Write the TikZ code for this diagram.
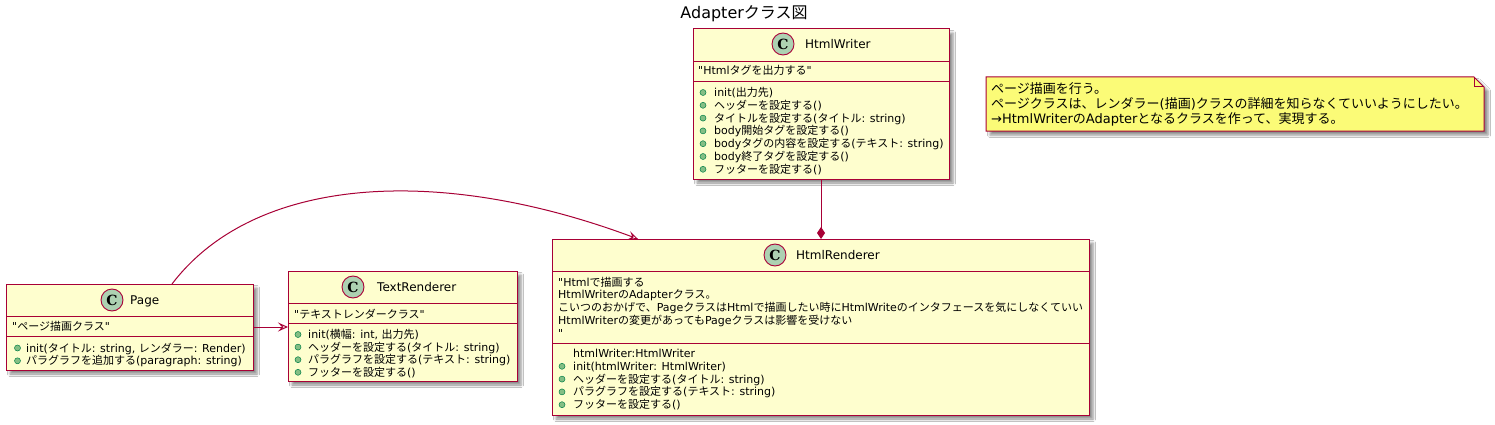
\documentclass[tikz,border=0pt]{standalone}
\usepackage{fontspec}
\setmainfont{DejaVu Sans}[Ligatures=TeXOff]
\newfontfamily\jpfont{Noto Sans CJK JP}
\newfontfamily\lafont{DejaVu Sans}[Ligatures=TeXOff]
\newfontfamily\cfont{DejaVu Serif}
\usetikzlibrary{arrows.meta,shadows.blur}
\XeTeXinterchartokenstate=1
\newXeTeXintercharclass\jpclass
\newcount\jpcnt
\def\jpsetrange#1#2{\jpcnt=#1\relax\loop\XeTeXcharclass\jpcnt=\jpclass\relax\ifnum\jpcnt<#2\advance\jpcnt by 1\repeat}
\jpsetrange{"3000}{"30FF}
\jpsetrange{"4E00}{"9FFF}
\jpsetrange{"FF00}{"FFEF}
\XeTeXinterchartoks 0 \jpclass = {\jpfont}
\XeTeXinterchartoks 4095 \jpclass = {\jpfont}
\XeTeXinterchartoks \jpclass 0 = {\lafont}
\XeTeXinterchartoks \jpclass 4095 = {\lafont}
\definecolor{bd}{HTML}{A80036}
\definecolor{clsbg}{HTML}{FEFECE}
\definecolor{cbg}{HTML}{ADD1B2}
\definecolor{bulfill}{HTML}{84BE84}
\definecolor{bulbd}{HTML}{038048}
\definecolor{notebg}{HTML}{FBFB77}
\tikzset{
  shad/.style={blur shadow={shadow xshift=4pt,shadow yshift=-4pt,shadow blur radius=2.5pt,shadow opacity=45}},
  cls/.style={draw=bd, fill=clsbg, line width=1pt, rectangle, anchor=north west, inner sep=0pt, outer sep=0pt, shad},
  sepline/.style={draw=bd, line width=0.9pt},
  cc/.style={circle, draw=bd, fill=cbg, line width=0.9pt, minimum size=22pt, inner sep=0pt, font=\cfont\bfseries\fontsize{14}{14}\selectfont},
  bul/.style={circle, draw=bulbd, fill=bulfill, minimum size=6pt, inner sep=0pt, line width=0.5pt},
  tx/.style={anchor=base west, inner sep=0pt, font=\fontsize{11}{13}\selectfont},
  nm/.style={anchor=base west, inner sep=0pt, font=\fontsize{12}{14}\selectfont},
  ntx/.style={anchor=base west, inner sep=0pt, font=\fontsize{13}{15}\selectfont},
  conn/.style={draw=bd, line width=1pt},
  asc/.style={conn, -{Stealth[open,length=10pt,width=9pt,inset=4pt]}},
}
\begin{document}
\begin{tikzpicture}[x=1pt,y=-1pt]
\fill[white] (0,0) rectangle (1495,425);
\useasboundingbox (0,0) rectangle (1495,425);

% title
\node[anchor=base, inner sep=0pt, font=\fontsize{16}{18}\selectfont] (title) at (744,18.5) {Adapterクラス図};

% ---------- HtmlWriter ----------
\node[cls, minimum width=256pt, minimum height=150pt] (hw) at (693,29) {};
\draw[sepline] (693,61) -- (949,61);
\draw[sepline] (693,81) -- (949,81);
\node[cc] (hwc) at (783,44) {C};
\node[nm] (hwn) at (805,48.4) {HtmlWriter};
\node[tx] (hwd) at (698,75) {"Htmlタグを出力する"};
\foreach \t [count=\i from 0] in {{init(出力先)},{ヘッダーを設定する()},{タイトルを設定する(タイトル: string)},{body開始タグを設定する()},{bodyタグの内容を設定する(テキスト: string)},{body終了タグを設定する()},{フッターを設定する()}}{
  \node[bul] (hwb\i) at (703,{92.5+12.8*\i}) {};
  \node[tx] (hwm\i) at (714,{96.5+12.8*\i}) {\t};
}

% ---------- HtmlRenderer ----------
\node[cls, minimum width=537pt, minimum height=176pt] (hr) at (552,239) {};
\draw[sepline] (552,271) -- (1089,271);
\draw[sepline] (552,343) -- (1089,343);
\node[cc] (hrc) at (775,255) {C};
\node[nm] (hrn) at (796,259.4) {HtmlRenderer};
\foreach \t [count=\i from 0] in {{"Htmlで描画する},{HtmlWriterのAdapterクラス。},{こいつのおかげで、PageクラスはHtmlで描画したい時にHtmlWriteのインタフェースを気にしなくていい},{HtmlWriterの変更があってもPageクラスは影響を受けない},{"}}{
  \node[tx] (hrd\i) at (558,{286+12.8*\i}) {\t};
}
\node[tx] (hrf) at (573,357.5) {htmlWriter:HtmlWriter};
\foreach \t [count=\i from 1] in {{init(htmlWriter: HtmlWriter)},{ヘッダーを設定する(タイトル: string)},{パラグラフを設定する(テキスト: string)},{フッターを設定する()}}{
  \node[bul] (hrb\i) at (562,{353.5+12.8*\i}) {};
  \node[tx] (hrm\i) at (573,{357.5+12.8*\i}) {\t};
}

% ---------- Page ----------
\node[cls, minimum width=247pt, minimum height=86pt] (page) at (6,284) {};
\draw[sepline] (6,316) -- (253,316);
\draw[sepline] (6,336) -- (253,336);
\node[cc] (pgc) at (112,300) {C};
\node[nm] (pgn) at (130,304.4) {Page};
\node[tx] (pgd) at (12,330) {"ページ描画クラス"};
\foreach \t [count=\i from 0] in {{init(タイトル: string, レンダラー: Render)},{パラグラフを追加する(paragraph: string)}}{
  \node[bul] (pgb\i) at (17.5,{348+12.8*\i}) {};
  \node[tx] (pgm\i) at (26,{352+12.8*\i}) {\t};
}

% ---------- TextRenderer ----------
\node[cls, minimum width=229pt, minimum height=110pt] (tr) at (288,271) {};
\draw[sepline] (288,303) -- (517,303);
\draw[sepline] (288,323) -- (517,323);
\node[cc] (trc) at (353,287) {C};
\node[nm] (trn) at (377,291.4) {TextRenderer};
\node[tx] (trd) at (294,318) {"テキストレンダークラス"};
\foreach \t [count=\i from 0] in {{init(横幅: int, 出力先)},{ヘッダーを設定する(タイトル: string)},{パラグラフを設定する(テキスト: string)},{フッターを設定する()}}{
  \node[bul] (trb\i) at (298,{334.5+12.6*\i}) {};
  \node[tx] (trm\i) at (308,{338.5+12.6*\i}) {\t};
}

% ---------- Note ----------
\node[anchor=north west, minimum width=498pt, minimum height=54pt, inner sep=0pt, outer sep=0pt] (note) at (986,77) {};
\path[draw=bd, fill=notebg, line width=1pt, shad] (note.north west) -- ([xshift=-10pt]note.north east) -- ([yshift=-10pt]note.north east) -- (note.south east) -- (note.south west) -- cycle;
\draw[draw=bd, line width=1pt] ([xshift=-10pt]note.north east) -- ([xshift=-10pt,yshift=-10pt]note.north east) -- ([yshift=-10pt]note.north east);
\node[ntx] (nt1) at (991,93.7) {ページ描画を行う。};
\node[ntx] (nt2) at (991,108.7) {ページクラスは、レンダラー(描画)クラスの詳細を知らなくていいようにしたい。};
\node[ntx] (nt3) at (991,123.7) {→HtmlWriterのAdapterとなるクラスを作って、実現する。};

% ---------- connectors ----------
\draw[conn, -{Diamond[length=12pt,width=8pt,fill=bd]}] (hw.south) -- (hw.south |- hr.north);
\draw[asc] (page.east) -- (page.east -| tr.west);
\draw[asc] ([xshift=42.5pt]page.north) .. controls (255,175) and (440,165) .. ([xshift=-182.5pt]hr.north);
\end{tikzpicture}
\end{document}
